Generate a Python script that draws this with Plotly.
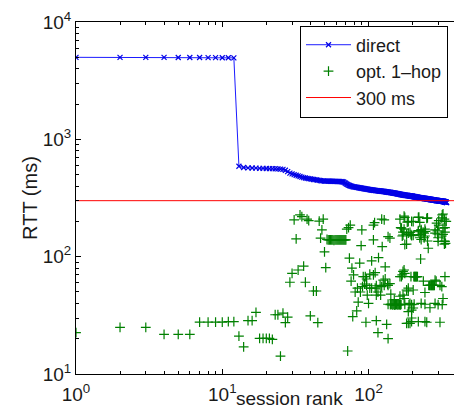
import plotly.graph_objects as go

# ---------------- data ----------------
# direct RTT (ms) for session ranks 1..N (sorted descending)
direct_rtt = [
    5000, 5000, 4990, 4990, 4980, 4980, 4980, 4970, 4970, 4960, 4960, 4950,
    590,
    575, 572, 570, 568, 566, 565, 564, 563, 562, 561, 560, 558, 555,
    545, 530, 515, 508, 500, 494, 488, 482, 476, 472,
    468, 465, 462, 460, 458, 455, 453, 451, 449, 447, 445, 443, 442,
    441, 441, 440, 440, 440, 439, 439, 439, 438, 438, 438, 437, 437, 437, 436, 436, 435, 434,
    430, 425, 420, 415, 411, 407, 404, 401, 399, 397, 395,
    394, 393, 392, 391, 390, 389, 388, 387, 386, 385,
    384, 383, 382, 381, 380, 379, 378, 377, 376, 376,
    375, 374, 373, 373, 372, 371, 370, 370, 369, 368,
    368, 367, 367, 366, 366, 365, 365, 364, 364, 363,
    363, 363,
    362, 362, 361, 361, 360, 360, 359, 359, 358, 358,
    357, 357, 356, 356, 355, 355, 354, 354, 353, 353,
    352, 352, 351, 351, 350, 350, 349, 349, 348, 348,
    347, 347, 346, 346, 345, 345, 344, 344, 343, 343,
    342, 341, 341, 340, 340, 339, 339, 338, 338, 337,
    337, 336,
    336, 335, 335, 335, 334, 334, 334, 333, 333, 333,
    332, 332, 332, 331, 331, 331, 330, 330, 330, 329,
    329, 329, 328, 328, 328, 327, 327, 327, 326, 326,
    325, 325, 325, 324, 324, 324, 323, 323, 322, 322,
    322, 321, 321, 321, 320, 320, 320, 319, 319, 319,
    318, 318, 318, 317, 317, 317, 316, 316, 316, 315,
    315, 315, 315, 315,
    314, 314, 314, 314, 313, 313, 313, 313, 312, 312,
    312, 312, 311, 311, 311, 311, 310, 310, 310, 310,
    309, 309, 309, 309, 308, 308, 308, 308, 307, 307,
    307, 307, 306, 306, 306, 306, 305, 305, 305, 305,
    304, 304, 304, 304, 303, 303, 303, 303, 303, 302,
    302, 302, 302, 302, 301, 301, 301, 301, 301, 300,
    300, 300, 300, 300, 299, 299, 299, 299, 299, 299,
    298, 298, 298, 298, 298, 298, 297, 297, 297, 297,
    297, 297, 296, 296, 296, 296, 296, 296,
    296, 295, 295, 295, 294, 294, 294, 293, 293, 293,
    292, 292, 292, 291, 291, 290, 290, 289,
]
direct_rank = list(range(1, len(direct_rtt) + 1))

# optimal one-hop RTT (ms) by session rank
hop_rank = [
    1, 2, 3, 4, 5, 6, 7, 8, 9, 10, 11, 12, 13, 14, 15, 16, 17, 18, 19, 20,
    21, 22, 23, 24, 25, 26, 27, 28, 29, 30, 31, 32, 33, 34, 35, 36, 37, 38, 39, 40,
    42, 44, 45, 46, 47, 48, 49, 50, 51,
    52, 53, 54, 55, 56, 57, 58, 59, 60, 61, 62, 63, 64, 65, 66, 67, 68, 69, 70,
    71, 72, 73, 74, 75, 76, 77, 78, 79, 81, 83, 84, 85, 87, 88, 89, 90, 91, 92, 94,
    95, 96, 97, 97, 98, 100, 102, 102, 105, 105, 108, 108, 108, 110, 111, 111,
    113, 113, 113, 116, 116, 117, 120, 121, 123, 123, 124, 126, 128, 128, 130, 130,
    133, 135, 136, 136, 136, 136, 140, 140, 142,
    141, 143, 145, 147, 149, 151, 153, 155, 157, 159, 161, 163, 165, 167,
    150, 164, 164, 164, 166, 168, 168, 170, 170, 172, 172, 172, 172,
    175, 175, 175, 175, 177, 177, 177, 177, 182, 182, 182, 182, 184,
    187, 187, 187, 187, 187, 187, 189, 192, 192, 192, 195, 195,
    197, 197, 197, 197, 197, 197, 202, 202, 202, 202, 205,
    204, 206, 208, 210, 212, 214, 216,
    219, 219, 219, 219, 221, 224, 224, 227, 227, 229, 229, 229, 229,
    236, 237, 240, 240, 243, 243, 243, 243, 243, 245, 250, 250, 253, 253, 256,
    258, 261, 264, 267, 270, 273, 276, 279, 282,
    263, 285, 285, 285, 285, 290, 292, 296, 296, 299, 299, 299, 302, 302,
    308, 308, 317, 317, 317, 319, 319, 323, 323, 323, 323,
    330, 330, 330, 333, 333, 333, 333, 333, 336, 340,
]
hop_rtt = [
    22.5, 25, 25, 21.8, 21.8, 21.8, 27.7, 27.7, 27.7, 27.7, 28, 28, 21, 17, 28.5, 28.5, 33.5, 20.1, 20.1, 20.1,
    20.1, 19.7, 32, 32, 14.2, 33, 27.4, 30.5, 60.5, 72, 206, 142, 77, 227, 219, 83, 60.5, 209, 203, 31.3,
    51, 51, 27.4, 201, 144, 169, 209, 110, 80.5,
    140, 139, 139, 139, 139, 139, 138, 139, 139, 139, 139, 139, 139, 139, 139, 139, 139, 139, 139,
    172, 15.7, 177, 97, 186, 62, 80, 30.8, 70, 50, 34.5, 54, 41, 88, 50, 124, 169, 55.5, 67.6, 58.5,
    67.6, 27.6, 64.5, 57, 47, 40, 71, 54, 92, 54, 186, 139, 70, 195, 73, 54,
    56.5, 47, 28.5, 50, 22.5, 98, 57, 47, 209, 55.5, 122, 63, 206, 57, 82, 64.5,
    26.5, 58.5, 148, 57, 39.3, 20, 144, 59, 48,
    39, 39.5, 38.8, 39, 39.3, 38.7, 39, 39.2, 39, 38.8, 39.3, 39, 38.9, 39.2,
    43, 46, 67.6, 209, 177, 67.6, 175, 70, 150, 153, 162, 47, 75,
    172, 77, 44, 222, 216, 72, 39.3, 127, 155, 52, 128, 27, 197,
    199, 51, 54, 34, 27, 159, 39, 161, 40, 27, 67.6, 154,
    151, 39, 35, 30, 28, 200, 199, 152, 52, 36.5, 39.3,
    67.6, 67.6, 67.6, 67.6, 67.6, 67.6, 67.6,
    216, 163, 167, 28, 217, 196, 145, 95.5, 154, 166, 170, 40, 140,
    162, 62, 159, 145, 172, 150, 49.5, 39.3, 28, 164, 212, 27.6, 136, 214, 118,
    57, 57, 57, 57, 57, 57, 57, 57, 57,
    36.7, 169, 63, 40, 159, 62, 193, 166, 156, 145, 39, 135, 186, 203,
    57, 27.6, 55.5, 214, 150, 227, 39, 155, 44, 231, 175,
    209, 136, 128, 177, 67.6, 200, 162, 135, 130, 200,
]

threshold_ms = 300
x_limits = [1, 384]

x_tickvals = [1, 10, 100]
x_ticktext = ["10<sup>0</sup>", "10<sup>1</sup>", "10<sup>2</sup>"]
x_minor = [2, 3, 4, 5, 6, 7, 8, 9, 20, 30, 40, 50, 60, 70, 80, 90, 200, 300]
y_tickvals = [10, 100, 1000, 10000]
y_ticktext = ["10<sup>1</sup>", "10<sup>2</sup>", "10<sup>3</sup>", "10<sup>4</sup>"]
y_minor = [20, 30, 40, 50, 60, 70, 80, 90, 200, 300, 400, 500, 600, 700, 800, 900,
           2000, 3000, 4000, 5000, 6000, 7000, 8000, 9000]

# ---------------- figure ----------------
FONT = "Liberation Sans, Arial, Helvetica, sans-serif"
TXT = "#1a1a1a"

fig = go.Figure()
fig.add_trace(go.Scatter(
    x=direct_rank, y=direct_rtt, name="direct", mode="lines+markers",
    line=dict(color="rgb(0,0,255)", width=0.9),
    marker=dict(symbol="x-thin", size=5, line=dict(width=1.2, color="rgb(0,0,230)")),
))
fig.add_trace(go.Scatter(
    x=hop_rank, y=hop_rtt, name="opt. 1\u2013hop", mode="markers",
    marker=dict(symbol="cross-thin", size=7, line=dict(width=1.2, color="rgb(0,128,0)")),
))
fig.add_trace(go.Scatter(
    x=x_limits, y=[threshold_ms, threshold_ms], name="300 ms", mode="lines",
    line=dict(color="rgb(255,0,0)", width=1),
))

axis_common = dict(
    type="log", showgrid=False, zeroline=False, showline=True, automargin=False,
    linecolor="black", linewidth=1, ticks="inside", ticklen=5,
    tickcolor="black", tickwidth=1,
    tickfont=dict(family=FONT, size=19, color=TXT),
)
fig.update_xaxes(
    range=[0, 2.5843], tickmode="array", tickvals=x_tickvals, ticktext=x_ticktext,
    mirror="ticks", ticklabelstandoff=3,
    minor=dict(tickmode="array", tickvals=x_minor, ticks="inside", ticklen=3,
               tickcolor="black", tickwidth=1, showgrid=False),
    **axis_common,
)
fig.update_yaxes(
    range=[1, 4], tickmode="array", tickvals=y_tickvals, ticktext=y_ticktext,
    mirror=False,
    minor=dict(tickmode="array", tickvals=y_minor, ticks="inside", ticklen=3,
               tickcolor="black", tickwidth=1, showgrid=False),
    **axis_common,
)

fig.update_layout(
    width=454, height=417,
    margin=dict(l=76, r=0, t=22, b=43, autoexpand=False),
    plot_bgcolor="white", paper_bgcolor="white",
    font=dict(family=FONT, color=TXT),
    showlegend=True,
    legend=dict(
        x=0.5926, xanchor="left", y=0.99, yanchor="top",
        bgcolor="white", bordercolor="black", borderwidth=1,
        font=dict(family=FONT, size=18, color=TXT),
        itemwidth=45, tracegroupgap=0,
    ),
    annotations=[
        dict(text="RTT (ms)", xref="paper", yref="paper", x=-0.122, y=0.5,
             textangle=-90, showarrow=False, xanchor="center", yanchor="middle",
             font=dict(family=FONT, size=20, color=TXT)),
        dict(text="session rank", xref="paper", yref="paper", x=0.565, y=-0.071,
             showarrow=False, xanchor="center", yanchor="middle",
             font=dict(family=FONT, size=19, color=TXT)),
    ],
)

fig.write_html(
    "out.html",
    config={"displayModeBar": False, "staticPlot": True},
    post_script="document.body.style.margin='0px';document.body.style.overflow='hidden';",
)
